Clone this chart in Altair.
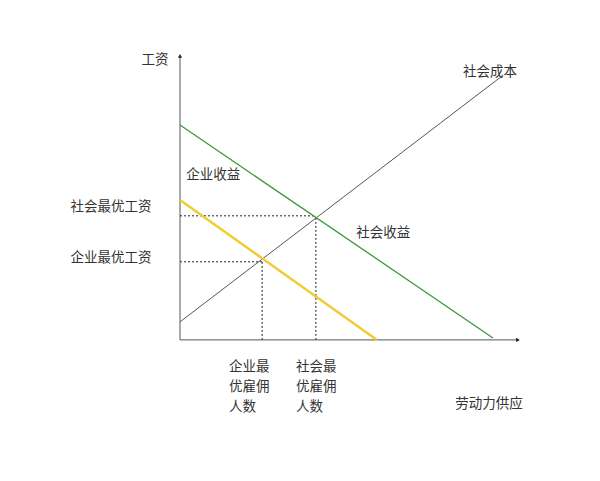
import altair as alt
import pandas as pd

# Curves (labour on x, wage on y), arbitrary units 0..100
social_cost_x = [0, 95.3]
social_cost_y = [6.4, 93.6]
social_benefit_x = [0, 92.6]
social_benefit_y = [76.2, 0.7]
firm_benefit_x = [0, 58.3]
firm_benefit_y = [49.6, 0]

# Optimum points
social_opt = (40.2, 44.0)
firm_opt = (24.3, 27.7)

# Axes extent
x_axis_max = 100
y_axis_max = 100.7

# Labels
label_text = ["工资", "社会成本", "企业收益", "社会最优工资", "社会收益", "企业最优工资", "劳动力供应"]
label_x = [-7.4, 91.7, 9.8, -20.4, 60.1, -20.4, 91.4]
label_y = [99.3, 95.0, 58.5, 47.2, 37.9, 29.1, -22.7]

emp_text = ["企业最", "优雇佣", "人数", "社会最", "优雇佣", "人数"]
emp_x = [14.5, 14.5, 14.5, 34.3, 34.3, 34.3]
emp_y = [-9.6, -16.7, -23.8, -9.6, -16.7, -23.8]

XS = alt.Scale(domain=[-50.9, 121.9], nice=False, zero=False)
YS = alt.Scale(domain=[-47.2, 117.7], nice=False, zero=False)

def line_df(xs, ys, name):
    return pd.DataFrame({"x": xs, "y": ys, "s": name, "o": list(range(len(xs)))})

def line_layer(df, color, width, dash=None):
    kw = dict(color=color, strokeWidth=width, clip=False)
    if dash:
        kw["strokeDash"] = dash
    return alt.Chart(df).mark_line(**kw).encode(
        x=alt.X("x:Q", scale=XS, axis=None),
        y=alt.Y("y:Q", scale=YS, axis=None),
        order="o:Q",
    )

axes_x = line_df([0, x_axis_max], [0, 0], "xaxis")
axes_y = line_df([0, 0], [0, y_axis_max], "yaxis")

layers = [
    line_layer(axes_x, "#555555", 1),
    line_layer(axes_y, "#555555", 1),
    line_layer(line_df([0, social_opt[0]], [social_opt[1]] * 2, "d1"), "#222222", 1, [2, 2]),
    line_layer(line_df([social_opt[0]] * 2, [0, social_opt[1]], "d2"), "#222222", 1, [2, 2]),
    line_layer(line_df([0, firm_opt[0]], [firm_opt[1]] * 2, "d3"), "#222222", 1, [2, 2]),
    line_layer(line_df([firm_opt[0]] * 2, [0, firm_opt[1]], "d4"), "#222222", 1, [2, 2]),
    line_layer(line_df(social_cost_x, social_cost_y, "sc"), "#444444", 0.9),
    line_layer(line_df(social_benefit_x, social_benefit_y, "sb"), "#3a9a3a", 1.3),
    line_layer(line_df(firm_benefit_x, firm_benefit_y, "fb"), "#f0cc30", 2.5),
]

arrows = pd.DataFrame({
    "x": [x_axis_max, 0],
    "y": [0, y_axis_max],
    "shape": ["triangle-right", "triangle-up"],
})
arrow_layer = alt.Chart(arrows).mark_point(filled=True, size=18, color="#222222", opacity=1).encode(
    x=alt.X("x:Q", scale=XS, axis=None),
    y=alt.Y("y:Q", scale=YS, axis=None),
    shape=alt.Shape("shape:N", scale=None),
)

labels = pd.DataFrame({"t": label_text, "x": label_x, "y": label_y})
label_layer = alt.Chart(labels).mark_text(
    font="Noto Sans CJK SC", fontSize=13.5, color="#333333", align="center", baseline="middle"
).encode(
    x=alt.X("x:Q", scale=XS, axis=None),
    y=alt.Y("y:Q", scale=YS, axis=None),
    text="t:N",
)

emp = pd.DataFrame({"t": emp_text, "x": emp_x, "y": emp_y})
emp_layer = alt.Chart(emp).mark_text(
    font="Noto Sans CJK SC", fontSize=13.5, color="#333333", align="left", baseline="middle"
).encode(
    x=alt.X("x:Q", scale=XS, axis=None),
    y=alt.Y("y:Q", scale=YS, axis=None),
    text="t:N",
)

chart = alt.layer(*layers, arrow_layer, label_layer, emp_layer).properties(
    width=584, height=465, padding=0, autosize=alt.AutoSizeParams(type="none")
).configure_view(stroke=None)

chart.save("out.html", embed_options={"renderer": "svg", "actions": False})
